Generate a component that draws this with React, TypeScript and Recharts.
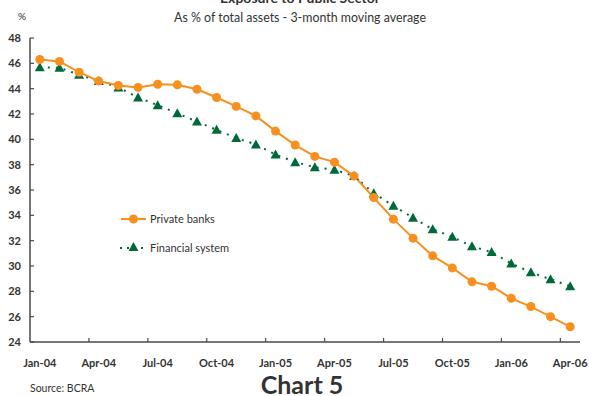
import React from "react";
import { LineChart, Line, XAxis, YAxis, Legend, Customized } from "recharts";

// Monthly observations, Jan-04 .. Apr-06
const months = [
  "Jan-04", "Feb-04", "Mar-04", "Apr-04", "May-04", "Jun-04", "Jul-04", "Aug-04", "Sep-04", "Oct-04",
  "Nov-04", "Dec-04", "Jan-05", "Feb-05", "Mar-05", "Apr-05", "May-05", "Jun-05", "Jul-05", "Aug-05",
  "Sep-05", "Oct-05", "Nov-05", "Dec-05", "Jan-06", "Feb-06", "Mar-06", "Apr-06",
];

const privateBanks = [
  46.3, 46.15, 45.3, 44.6, 44.25, 44.1, 44.35, 44.3, 43.95, 43.3,
  42.6, 41.85, 40.65, 39.55, 38.65, 38.2, 37.1, 35.4, 33.7, 32.2,
  30.8, 29.85, 28.75, 28.4, 27.45, 26.8, 26.0, 25.2,
];

const financialSystem = [
  45.7, 45.65, 45.1, 44.6, 44.1, 43.3, 42.7, 42.05, 41.4, 40.75,
  40.1, 39.6, 38.8, 38.2, 37.8, 37.6, 37.1, 35.75, 34.75, 33.8,
  32.9, 32.3, 31.55, 31.1, 30.2, 29.5, 28.95, 28.4,
];

const yTicks = [24, 26, 28, 30, 32, 34, 36, 38, 40, 42, 44, 46, 48];

const data = months.map((m, i) => ({
  month: m,
  privateBanks: privateBanks[i],
  financialSystem: financialSystem[i],
}));

const ORANGE = "#F7901E";
const GREEN = "#00693A";
const AXIS = "#4a4a4a";
const TEXT = "#333333";
const FONT = "Lato, 'Open Sans', sans-serif";

const W = 589;
const H = 396;
const PLOT_LEFT = 30;
const PLOT_RIGHT = 580;
const PLOT_TOP = 38;
const PLOT_BOTTOM = 342;
const HALF_BAND = (PLOT_RIGHT - PLOT_LEFT) / months.length / 2;

const XTick = (props: any) => {
  const { x, payload } = props;
  const idx = months.indexOf(payload.value);
  if (idx % 3 !== 0) return null;
  const edge = x - HALF_BAND;
  return (
    <g>
      {idx > 0 && (
        <line x1={edge} x2={edge} y1={PLOT_BOTTOM} y2={PLOT_BOTTOM - 4} stroke={AXIS} strokeWidth={1.2} />
      )}
      <text
        x={x}
        y={PLOT_BOTTOM + 25}
        textAnchor="middle"
        fontFamily={FONT}
        fontWeight="bold"
        fontSize={11}
        fill={TEXT}
      >
        {payload.value}
      </text>
    </g>
  );
};

const YTick = (props: any) => {
  const { y, payload } = props;
  return (
    <g>
      <line x1={PLOT_LEFT} x2={PLOT_LEFT + 4} y1={y} y2={y} stroke={AXIS} strokeWidth={1.2} />
      <text
        x={PLOT_LEFT - 9}
        y={y + 4}
        textAnchor="end"
        fontFamily={FONT}
        fontWeight="bold"
        fontSize={11}
        fill={TEXT}
      >
        {payload.value}
      </text>
    </g>
  );
};

const Triangle = (props: any) => {
  const { cx, cy } = props;
  if (cx == null || cy == null) return null;
  const s = 5;
  return (
    <path
      d={`M${cx},${cy - s} L${cx + s},${cy + s * 0.8} L${cx - s},${cy + s * 0.8} Z`}
      fill={GREEN}
      stroke="none"
    />
  );
};

const LegendBox = () => (
  <svg width={130} height={50} style={{ overflow: "visible" }}>
    <line x1={6} x2={31} y1={9} y2={9} stroke={ORANGE} strokeWidth={2} />
    <circle cx={18.5} cy={9} r={4.5} fill={ORANGE} />
    <text x={35} y={13} fontFamily={FONT} fontSize={11} fill={TEXT}>
      Private banks
    </text>
    <line x1={5} x2={32} y1={38} y2={38} stroke={GREEN} strokeWidth={2} strokeDasharray="2 5" />
    <Triangle cx={18.5} cy={37} />
    <text x={35} y={42} fontFamily={FONT} fontSize={11} fill={TEXT}>
      Financial system
    </text>
  </svg>
);

const Annotations = () => (
  <g fontFamily={FONT}>
    <text x={300} y={3} textAnchor="middle" fontWeight="bold" fontSize={14} fill={TEXT}>
      Exposure to Public Sector
    </text>
    <text x={300} y={22} textAnchor="middle" fontSize={12.4} fill={TEXT}>
      As % of total assets - 3-month moving average
    </text>
    <text x={22} y={20} textAnchor="middle" fontSize={10} fill={TEXT}>
      %
    </text>
    <text x={30} y={392} fontSize={10.5} fill={TEXT}>
      Source: BCRA
    </text>
    <text x={302} y={394} textAnchor="middle" fontWeight="bold" fontSize={25} fill={TEXT}>
      Chart 5
    </text>
  </g>
);

export default function App() {
  return (
    <div style={{ position: "absolute", left: 0, top: 0, width: W, height: H, background: "#fff" }}>
      <LineChart
        width={W}
        height={H}
        data={data}
        margin={{ top: PLOT_TOP, right: W - PLOT_RIGHT, left: 0, bottom: H - PLOT_BOTTOM - 30 }}
      >
        <XAxis
          dataKey="month"
          interval={0}
          height={30}
          padding={{ left: HALF_BAND, right: HALF_BAND }}
          axisLine={{ stroke: AXIS, strokeWidth: 1.5 }}
          tickLine={false}
          tick={<XTick />}
        />
        <YAxis
          domain={[24, 48]}
          ticks={yTicks}
          width={PLOT_LEFT}
          axisLine={{ stroke: AXIS, strokeWidth: 1.5 }}
          tickLine={false}
          tick={<YTick />}
          allowDataOverflow
        />
        <Legend
          layout="vertical"
          verticalAlign="middle"
          align="center"
          wrapperStyle={{ left: 115, top: 210, width: 140 }}
          content={<LegendBox />}
        />
        <Line
          dataKey="financialSystem"
          name="Financial system"
          stroke={GREEN}
          strokeWidth={2}
          strokeDasharray="2 6"
          dot={<Triangle />}
          isAnimationActive={false}
        />
        <Line
          dataKey="privateBanks"
          name="Private banks"
          stroke={ORANGE}
          strokeWidth={2}
          dot={{ r: 4.5, fill: ORANGE, stroke: "none" }}
          isAnimationActive={false}
        />
        <Customized component={Annotations} />
      </LineChart>
    </div>
  );
}
